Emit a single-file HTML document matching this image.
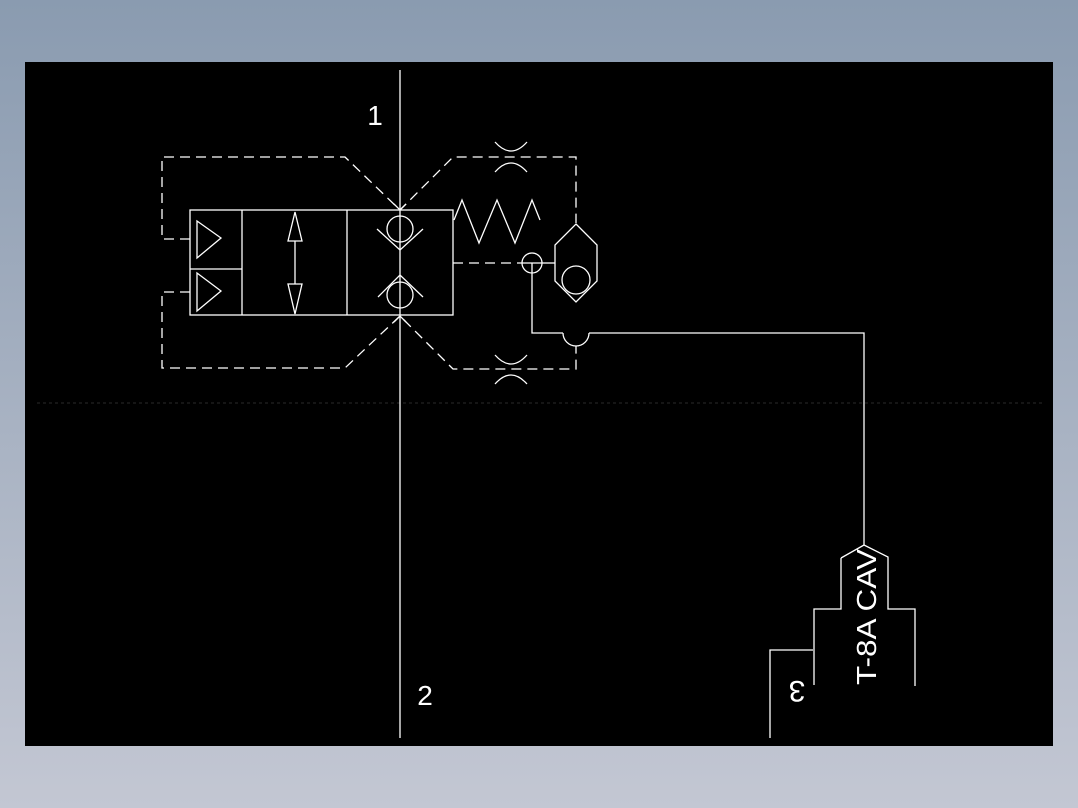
<!DOCTYPE html>
<html><head><meta charset="utf-8"><style>
html,body{margin:0;padding:0;}
body{width:1078px;height:808px;background:linear-gradient(#8a9bb0,#c3c7d3);overflow:hidden;}
svg{position:absolute;left:0;top:0;}
</style></head><body>
<svg width="1078" height="808" viewBox="0 0 1078 808" xmlns="http://www.w3.org/2000/svg">
<rect x="25" y="62" width="1028" height="684" fill="#000"/>
<line x1="37" y1="403" x2="1043" y2="403" stroke="#2a2a2a" stroke-width="1" stroke-dasharray="3,3"/>
<g fill="none" stroke="#fff" stroke-width="1.3">
<line x1="400" y1="70" x2="400" y2="738"/>
<rect x="190" y="210" width="263" height="105"/>
<line x1="242" y1="210" x2="242" y2="315"/>
<line x1="347" y1="210" x2="347" y2="315"/>
<line x1="190" y1="269" x2="242" y2="269"/>
<polygon points="197,221 221,238 197,258"/>
<polygon points="197,273 221,291 197,311"/>
<line x1="295" y1="241" x2="295" y2="284"/>
<polygon points="295,212 288,241 302,241"/>
<polygon points="295,314 288,284 302,284"/>
<circle cx="400" cy="229" r="13"/>
<polyline points="377,229 400,250 423,229"/>
<circle cx="400" cy="295" r="13"/>
<polyline points="378,297 400,275 423,297"/>
<polyline points="394,204 400,210 406,204"/>
<polyline points="394,322 400,316 406,322"/>
<polyline points="454,220 462,200 479,243 497,200 515,243 532,200 540,220"/>
<g stroke-dasharray="10,6">
<polyline points="190,239 162,239 162,157 345,157 400,210 453,157 576,157 576,223"/>
<polyline points="190,292 162,292 162,368 345,368 400,316 453,369 576,369 576,346"/>
<line x1="453" y1="263" x2="522" y2="263"/>
</g>
<path d="M495,142 Q511,160 527,142"/>
<path d="M495,172 Q511,154 527,172"/>
<path d="M495,355 Q511,373 527,355"/>
<path d="M495,384 Q511,366 527,384"/>
<circle cx="532" cy="263" r="10"/>
<line x1="522" y1="263" x2="542" y2="263"/>
<line x1="542" y1="263" x2="555" y2="263"/>
<polyline points="532,263 532,333 563,333"/>
<path d="M563,333 A13,13 0 0 0 589,333"/>
<polyline points="589,333 864,333 864,545"/>
<polygon points="576,224 597,245 597,281 576,302 555,281 555,245"/>
<circle cx="576" cy="280" r="14"/>
<polyline points="841,558 864,545 888,557 888,609 915,609 915,686"/>
<polyline points="841,558 841,609 814,609 814,685"/>
<polyline points="813,650 770,650 770,738"/>
</g>
<g fill="#fff" font-family="Liberation Sans, sans-serif">
<text x="375" y="125" font-size="28" text-anchor="middle">1</text>
<text x="425" y="705" font-size="28" text-anchor="middle">2</text>
<text transform="translate(876,617) rotate(-90)" font-size="28" text-anchor="middle" textLength="136" lengthAdjust="spacingAndGlyphs">T-8A CAV</text>
<text transform="translate(797,681) rotate(180)" font-size="30" text-anchor="middle">3</text>
</g>
</svg>
</body></html>
